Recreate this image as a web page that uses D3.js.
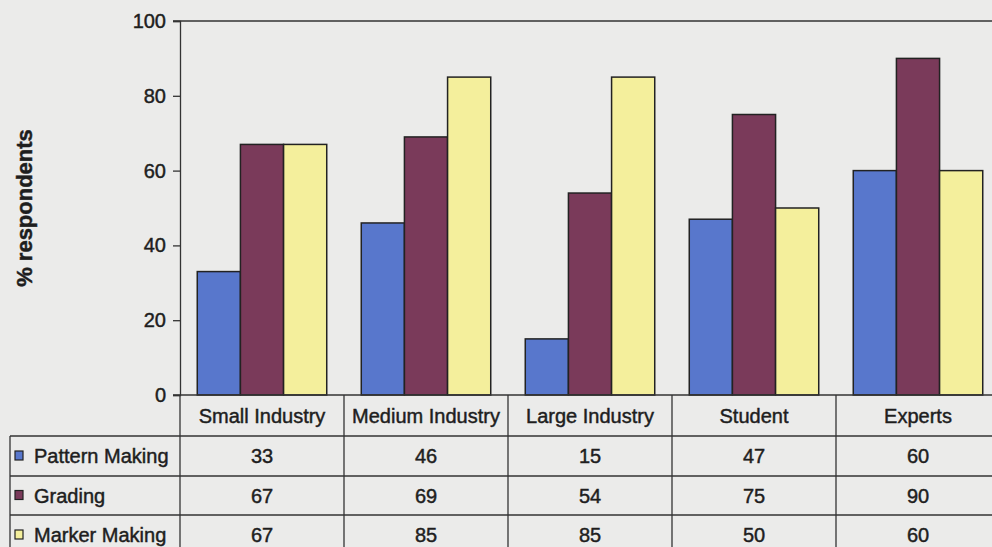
<!DOCTYPE html>
<html>
<head>
<meta charset="utf-8">
<script src="https://cdn.jsdelivr.net/npm/d3@7"></script>
<style>
  html, body { margin: 0; padding: 0; background: #ebebea; }
  svg { display: block; }
  text { font-family: Arial, "Liberation Sans", sans-serif; fill: #1e1e1e; stroke: #1e1e1e; stroke-width: 0.45px; }
</style>
</head>
<body>
<svg id="chart" width="992" height="547"></svg>
<script>
const categories = ["Small Industry", "Medium Industry", "Large Industry", "Student", "Experts"];
const seriesNames = ["Pattern Making", "Grading", "Marker Making"];
const patternMaking = [33, 46, 15, 47, 60];
const grading = [67, 69, 54, 75, 90];
const markerMaking = [67, 85, 85, 50, 60];
const yTicks = [0, 20, 40, 60, 80, 100];
const seriesColors = ["#5877cc", "#7a3a5a", "#f4ef9c"];
const seriesValues = [patternMaking, grading, markerMaking];

(function () {
const svg = d3.select("#chart");
const W = 992, H = 547;
const pLeft = 180, pRight = 1000, pTop = 21, pBottom = 395;
const tableLeft = 10;
const rowLines = [436, 476, 515, 555];
const lineColor = "#333";

const x0 = d3.scaleBand().domain(categories).range([pLeft, pRight]).paddingInner(0).paddingOuter(0);
const x1 = d3.scaleBand().domain(seriesNames).range([0, x0.bandwidth()]).paddingInner(0).paddingOuter(0.4);
const y = d3.scaleLinear().domain([0, 100]).range([pBottom, pTop]);
const color = d3.scaleOrdinal().domain(seriesNames).range(seriesColors);

// top line at 100
svg.append("line").attr("x1", pLeft - 7).attr("x2", W).attr("y1", y(100)).attr("y2", y(100))
  .attr("stroke", lineColor).attr("stroke-width", 1.3);

// y axis
const yAxis = d3.axisLeft(y).tickValues(yTicks).tickSize(7).tickPadding(7);
const gy = svg.append("g").attr("transform", `translate(${pLeft},0)`).call(yAxis);
gy.select(".domain").attr("stroke", lineColor).attr("stroke-width", 1.3);
gy.selectAll(".tick line").attr("stroke", lineColor).attr("stroke-width", 1.3);
gy.selectAll(".tick text").attr("font-size", 20).attr("font-family", "Arial, 'Liberation Sans', sans-serif").attr("fill", "#1e1e1e");

// y label
svg.append("text").attr("transform", `translate(32,208) rotate(-90)`)
  .attr("text-anchor", "middle").attr("font-size", 22).attr("font-weight", "bold")
  .attr("stroke-width", 0.2)
  .text("% respondents");

// bars
const groups = svg.append("g").selectAll("g").data(categories).join("g")
  .attr("transform", d => `translate(${x0(d)},0)`);
groups.selectAll("rect").data((d, i) => seriesNames.map((s, j) => ({ s, v: seriesValues[j][i] })))
  .join("rect")
  .attr("x", d => x1(d.s)).attr("width", x1.bandwidth())
  .attr("y", d => y(d.v)).attr("height", d => y(0) - y(d.v))
  .attr("fill", d => color(d.s)).attr("stroke", "#222").attr("stroke-width", 1.5);

// table lines
const tbl = svg.append("g");
tbl.append("line").attr("x1", pLeft - 7).attr("x2", pRight).attr("y1", pBottom).attr("y2", pBottom)
  .attr("stroke", lineColor).attr("stroke-width", 1.3);
rowLines.forEach(ry => {
  tbl.append("line").attr("x1", tableLeft).attr("x2", pRight).attr("y1", ry).attr("y2", ry)
    .attr("stroke", lineColor).attr("stroke-width", 1.3);
});
categories.forEach(c => {
  tbl.append("line").attr("x1", x0(c) + x0.bandwidth()).attr("x2", x0(c) + x0.bandwidth())
    .attr("y1", pBottom).attr("y2", H).attr("stroke", lineColor).attr("stroke-width", 1.3);
});
tbl.append("line").attr("x1", pLeft).attr("x2", pLeft).attr("y1", pBottom).attr("y2", H)
  .attr("stroke", lineColor).attr("stroke-width", 1.3);
tbl.append("line").attr("x1", tableLeft).attr("x2", tableLeft).attr("y1", rowLines[0]).attr("y2", H)
  .attr("stroke", lineColor).attr("stroke-width", 1.3);

// header texts
categories.forEach(c => {
  tbl.append("text").attr("x", x0(c) + x0.bandwidth() / 2).attr("y", (pBottom + rowLines[0]) / 2)
    .attr("dy", "0.35em").attr("text-anchor", "middle").attr("font-size", 20).text(c);
});

// rows
seriesNames.forEach((s, j) => {
  const cy = (rowLines[j] + rowLines[j + 1]) / 2;
  tbl.append("rect").attr("x", 15).attr("y", cy - 5).attr("width", 8).attr("height", 9)
    .attr("fill", color(s)).attr("stroke", "#222").attr("stroke-width", 1.2);
  tbl.append("text").attr("x", 34).attr("y", cy).attr("dy", "0.35em").attr("font-size", 20).text(s);
  categories.forEach((c, i) => {
    tbl.append("text").attr("x", x0(c) + x0.bandwidth() / 2).attr("y", cy).attr("dy", "0.35em")
      .attr("text-anchor", "middle").attr("font-size", 20).text(seriesValues[j][i]);
  });
});
})();
</script>
</body>
</html>
